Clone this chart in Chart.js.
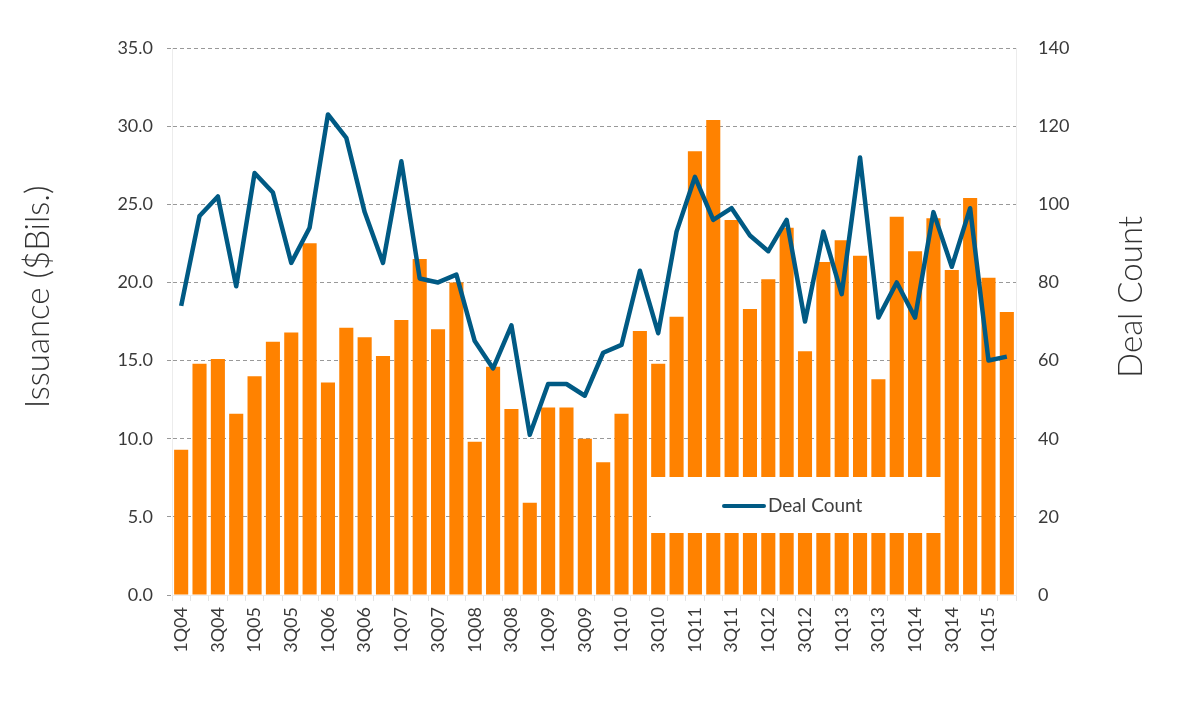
<!DOCTYPE html>
<html>
<head>
<meta charset="utf-8">
<script src="https://cdn.jsdelivr.net/npm/chart.js@4.4.1/dist/chart.umd.min.js"></script>
<style>
  html, body { margin: 0; padding: 0; background: #fff; }
  #wrap { width: 1178px; height: 715px; }
</style>
</head>
<body>
<div id="wrap"><canvas id="chart"></canvas></div>
<script>
// quarters 1Q04 .. 2Q15
const quarters = [
  "1Q04", "2Q04", "3Q04", "4Q04", "1Q05", "2Q05", "3Q05", "4Q05",
  "1Q06", "2Q06", "3Q06", "4Q06", "1Q07", "2Q07", "3Q07", "4Q07",
  "1Q08", "2Q08", "3Q08", "4Q08", "1Q09", "2Q09", "3Q09", "4Q09",
  "1Q10", "2Q10", "3Q10", "4Q10", "1Q11", "2Q11", "3Q11", "4Q11",
  "1Q12", "2Q12", "3Q12", "4Q12", "1Q13", "2Q13", "3Q13", "4Q13",
  "1Q14", "2Q14", "3Q14", "4Q14", "1Q15", "2Q15"
];

// issuance in $ billions (left axis)
const issuance = [
  9.3, 14.8, 15.1, 11.6, 14.0, 16.2, 16.8, 22.5,
  13.6, 17.1, 16.5, 15.3, 17.6, 21.5, 17.0, 20.0,
  9.8, 14.6, 11.9, 5.9, 12.0, 12.0, 10.0, 8.5,
  11.6, 16.9, 14.8, 17.8, 28.4, 30.4, 24.0, 18.3,
  20.2, 23.5, 15.6, 21.3, 22.7, 21.7, 13.8, 24.2,
  22.0, 24.1, 20.8, 25.4, 20.3, 18.1
];

// number of deals (right axis)
const dealCount = [
  74, 97, 102, 79, 108, 103, 85, 94,
  123, 117, 98, 85, 111, 81, 80, 82,
  65, 58, 69, 41, 54, 54, 51, 62,
  64, 83, 67, 93, 107, 96, 99, 92,
  88, 96, 70, 93, 77, 112, 71, 80,
  71, 98, 84, 99, 60, 61
];

const orange = "#FF8200";
const blue = "#005A84";
const textColor = "#333333";
const fontFamily = "Lato, 'Open Sans', sans-serif";

// axis titles + boxed legend drawn on top of the bars
const extras = {
  id: "extras",
  afterDatasetsDraw(chart) {
    const ctx = chart.ctx;
    const area = chart.chartArea;
    const midY = area.top + (area.bottom - area.top) * 0.455;

    ctx.save();
    ctx.fillStyle = textColor;
    ctx.font = "300 33px " + fontFamily;
    ctx.textAlign = "center";
    ctx.textBaseline = "middle";

    ctx.save();
    ctx.translate(38, midY);
    ctx.rotate(-Math.PI / 2);
    ctx.fillText("Issuance ($Bils.)", 0, 0);
    ctx.restore();

    ctx.save();
    ctx.translate(1131, midY);
    ctx.rotate(-Math.PI / 2);
    ctx.fillText("Deal Count", 0, 0);
    ctx.restore();

    // legend box
    ctx.fillStyle = "#ffffff";
    ctx.fillRect(651, 477, 290, 56);
    ctx.strokeStyle = blue;
    ctx.lineWidth = 4;
    ctx.lineCap = "round";
    ctx.beginPath();
    ctx.moveTo(724, 506);
    ctx.lineTo(764, 506);
    ctx.stroke();
    ctx.fillStyle = "#404040";
    ctx.font = "19px " + fontFamily;
    ctx.textAlign = "left";
    ctx.fillText(chart.data.datasets[0].label, 768, 506);
    ctx.restore();
  }
};

const tickFont = { family: fontFamily, size: 18, weight: "normal" };

new Chart(document.getElementById("chart"), {
  data: {
    labels: quarters,
    datasets: [
      {
        type: "line",
        label: "Deal Count",
        data: dealCount,
        yAxisID: "yRight",
        borderColor: blue,
        backgroundColor: blue,
        borderWidth: 4.5,
        pointRadius: 0,
        tension: 0,
        borderJoinStyle: "round",
        order: 0
      },
      {
        type: "bar",
        label: "Issuance",
        data: issuance,
        yAxisID: "yLeft",
        backgroundColor: orange,
        borderWidth: 0,
        categoryPercentage: 0.8,
        barPercentage: 0.96,
        order: 1
      }
    ]
  },
  options: {
    responsive: true,
    maintainAspectRatio: false,
    animation: false,
    layout: { padding: { top: 48, left: 0, right: 0, bottom: 0 } },
    plugins: {
      legend: { display: false },
      tooltip: { enabled: false }
    },
    scales: {
      x: {
        offset: true,
        grid: {
          offset: true,
          drawOnChartArea: false,
          color: "#e4e4e4",
          tickLength: 6
        },
        border: { color: "#ececec" },
        ticks: {
          autoSkip: false,
          minRotation: 90,
          maxRotation: 90,
          padding: 6,
          color: "#3a3a3a",
          font: tickFont,
          callback: (val, i) => (i % 2 === 0 ? quarters[i] : "")
        },
        afterFit: (scale) => { scale.height = 120; }
      },
      yLeft: {
        position: "left",
        min: 0,
        max: 35,
        ticks: {
          stepSize: 5,
          padding: 14,
          color: "#3a3a3a",
          font: tickFont,
          callback: (v) => v.toFixed(1)
        },
        grid: {
          color: "#999999",
          tickLength: 5,
          tickBorderDash: [4, 3]
        },
        border: { color: "#ececec", dash: [4, 3] },
        afterFit: (scale) => { scale.width = 172; }
      },
      yRight: {
        position: "right",
        min: 0,
        max: 140,
        ticks: {
          stepSize: 20,
          padding: 22,
          color: "#3a3a3a",
          font: tickFont
        },
        grid: { drawOnChartArea: false, drawTicks: false },
        border: { color: "#ececec" },
        afterFit: (scale) => { scale.width = 162; }
      }
    }
  },
  plugins: [extras]
});
</script>
</body>
</html>
